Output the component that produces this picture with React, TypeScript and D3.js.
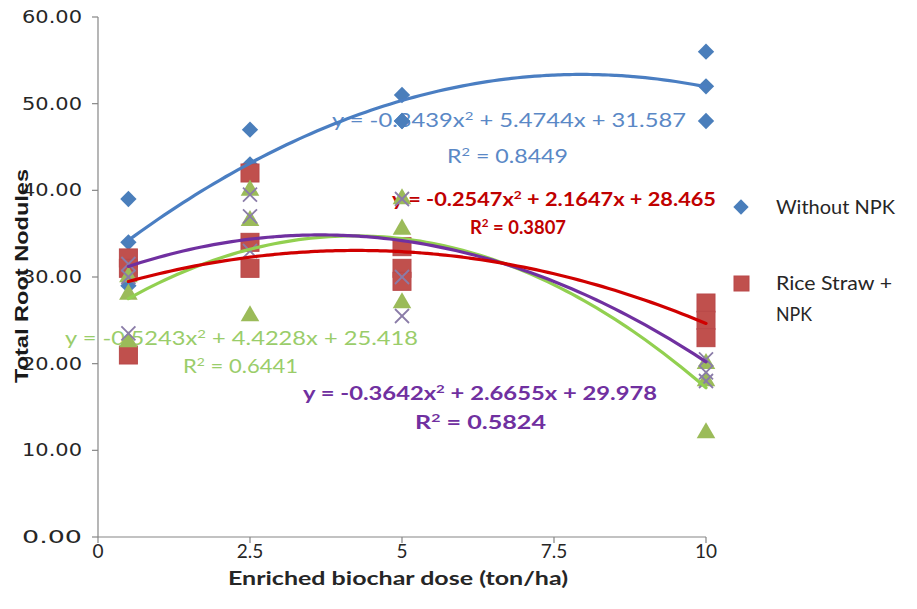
import React from "react";
import * as d3 from "d3";

// ---- data ----
const doses = [0.5, 2.5, 5, 10];
const withoutNPK = [
  [39, 34, 29],
  [47, 43, 42],
  [51, 48, 48],
  [56, 52, 48],
];
const riceStrawNPK = [
  [32.2, 31, 21],
  [42, 34, 31],
  [33.5, 31, 29.5],
  [27, 25, 23],
];
const series3 = [
  [28, 22.5, 30],
  [40, 36.5, 25.5],
  [39, 35.5, 27],
  [20, 18, 12],
];
const series4 = [
  [31.5, 23.5, 30],
  [39.5, 37, 33],
  [39, 25.5, 30],
  [20.5, 19, 18],
];
const coefWithout = [-0.3439, 5.4744, 31.587];
const coefRice = [-0.2547, 2.1647, 28.465];
const coefS3 = [-0.5243, 4.4228, 25.418];
const coefS4 = [-0.3642, 2.6655, 29.978];
const r2Values = ["0.8449", "0.3807", "0.6441", "0.5824"];
const xTicks = [0, 2.5, 5, 7.5, 10];
const yTicks = [0, 10, 20, 30, 40, 50, 60];
const legendLabels = ["Without NPK", "Rice Straw +", "NPK"];

const W = 917;
const H = 609;
const x = d3.scaleLinear().domain([0, 10]).range([98, 706]);
const y = d3.scaleLinear().domain([0, 60]).range([537, 17]);

const quad = (c: number[]) => (v: number) => c[0] * v * v + c[1] * v + c[2];

function flatten(vals: number[][]) {
  const out: { d: number; v: number }[] = [];
  vals.forEach((arr, i) => arr.forEach((v) => out.push({ d: doses[i], v })));
  return out;
}

function curvePath(c: number[]) {
  const f = quad(c);
  const pts = d3.range(0.5, 10.0001, 0.1).map((v) => [x(v), y(f(v))] as [number, number]);
  return d3.line().curve(d3.curveMonotoneX)(pts) || "";
}

function fmt(n: number, digits: number) {
  return Math.abs(n).toFixed(digits);
}

function Equation({
  c,
  r2,
  x0,
  x1,
  cy,
  rx0,
  rx1,
  rcy,
  color,
  bold,
}: {
  c: number[];
  r2: string;
  x0: number;
  x1: number;
  cy: number;
  rx0: number;
  rx1: number;
  rcy: number;
  color: string;
  bold?: boolean;
}) {
  const fw = bold ? 700 : 400;
  const sign = c[0] < 0 ? "-" : "";
  return (
    <g fill={color} fontFamily="Lato, 'Open Sans', sans-serif" fontSize={19} fontWeight={fw}>
      <text x={x0} y={cy + 7} textLength={x1 - x0} lengthAdjust="spacingAndGlyphs">
        {`y = ${sign}${fmt(c[0], 4)}x`}
        <tspan dy={-7} fontSize={12}>2</tspan>
        <tspan dy={7}>{` + ${fmt(c[1], 4)}x + ${fmt(c[2], 3)}`}</tspan>
      </text>
      <text x={rx0} y={rcy + 7} textLength={rx1 - rx0} lengthAdjust="spacingAndGlyphs">
        R<tspan dy={-7} fontSize={12}>2</tspan>
        <tspan dy={7}>{` = ${r2}`}</tspan>
      </text>
    </g>
  );
}

const diamond = d3.symbol().type(d3.symbolDiamond2).size(170)() || "";
const triangle = d3.symbol().type(d3.symbolTriangle).size(150)() || "";

export default function App() {
  const blue = "#4A7EBB";
  const red = "#C0504D";
  const green = "#9BBB59";
  const purple = "#8A7CA8";

  return (
    <svg width={W} height={H} style={{ position: "absolute", left: 0, top: 0, background: "#fff" }}>
      <rect width={W} height={H} fill="#fff" />
      {/* axes */}
      <g stroke="#868686" strokeWidth={1.2}>
        <line x1={x(0)} x2={x(0)} y1={y(60)} y2={y(0)} />
        <line x1={x(0)} x2={x(10)} y1={y(0)} y2={y(0)} />
        {yTicks.map((t) => (
          <line key={"yt" + t} x1={x(0) - 6} x2={x(0)} y1={y(t)} y2={y(t)} />
        ))}
        {xTicks.map((t) => (
          <line key={"xt" + t} x1={x(t)} x2={x(t)} y1={y(0)} y2={y(0) + 6} />
        ))}
      </g>
      <g fill="#262626" fontFamily="'DejaVu Sans', Verdana, sans-serif" fontSize={17}>
        {yTicks.map((t) => (
          <text key={"yl" + t} x={22} y={y(t) + 6} textLength={60} lengthAdjust="spacingAndGlyphs">
            {t.toFixed(2)}
          </text>
        ))}
      </g>
      <g fill="#262626" fontFamily="Lato, 'Open Sans', sans-serif" fontSize={19} textAnchor="middle">
        {xTicks.map((t) => (
          <text key={"xl" + t} x={x(t)} y={558}>
            {String(t)}
          </text>
        ))}
      </g>
      <text
        x={398}
        y={585}
        textAnchor="middle"
        fontFamily="Lato, 'Open Sans', sans-serif"
        fontWeight={700}
        fontSize={19}
        fill="#262626"
        textLength={340}
        lengthAdjust="spacingAndGlyphs"
      >
        Enriched biochar dose (ton/ha)
      </text>
      <text
        transform="translate(28,276) rotate(-90)"
        textAnchor="middle"
        fontFamily="'Liberation Sans', Arial, sans-serif"
        fontWeight={700}
        fontSize={18}
        fill="#1a1a1a"
        textLength={214}
        lengthAdjust="spacingAndGlyphs"
      >
        Total Root Nodules
      </text>

      {/* equations */}
      <Equation c={coefWithout} r2={r2Values[0]} x0={332} x1={686} cy={120} rx0={447} rx1={568} rcy={156} color="#5A88C6" />
      <Equation c={coefRice} r2={r2Values[1]} x0={392} x1={716} cy={199} rx0={470} rx1={566} rcy={227} color="#C00000" bold />
      <Equation c={coefS3} r2={r2Values[2]} x0={65} x1={418} cy={338} rx0={183} rx1={298} rcy={366} color="#9ACD6A" />
      <Equation c={coefS4} r2={r2Values[3]} x0={303} x1={657} cy={393} rx0={415} rx1={546} rcy={422} color="#7030A0" bold />

      {/* markers */}
      <g fill={blue}>
        {flatten(withoutNPK).map((p, i) => (
          <path key={"b" + i} d={diamond} transform={`translate(${x(p.d)},${y(p.v)})`} />
        ))}
      </g>
      <g fill={red} stroke="#B9494A" strokeWidth={1}>
        {flatten(riceStrawNPK).map((p, i) => (
          <rect key={"r" + i} x={x(p.d) - 9} y={y(p.v) - 9} width={18} height={18} />
        ))}
      </g>
      <g fill={green}>
        {flatten(series3).map((p, i) => (
          <path key={"g" + i} d={triangle} transform={`translate(${x(p.d)},${y(p.v)})`} />
        ))}
      </g>
      <g stroke={purple} strokeWidth={1.8}>
        {flatten(series4).map((p, i) => (
          <g key={"p" + i} transform={`translate(${x(p.d)},${y(p.v)})`}>
            <line x1={-7} y1={-7} x2={7} y2={7} />
            <line x1={-7} y1={7} x2={7} y2={-7} />
          </g>
        ))}
      </g>

      {/* trendlines */}
      <g fill="none" strokeWidth={3.2} strokeLinecap="round">
        <path d={curvePath(coefWithout)} stroke="#4A7EC2" />
        <path d={curvePath(coefS3)} stroke="#92D050" />
        <path d={curvePath(coefS4)} stroke="#7030A0" />
        <path d={curvePath(coefRice)} stroke="#D00000" />
      </g>

      {/* legend */}
      <path d={d3.symbol().type(d3.symbolDiamond2).size(150)() || ""} transform="translate(741,207)" fill={blue} />
      <rect x={734} y={276} width={15} height={15} fill={red} stroke="#B9494A" />
      <g fill="#262626" fontFamily="Lato, 'Open Sans', sans-serif" fontSize={19}>
        <text x={776} y={214} textLength={119} lengthAdjust="spacingAndGlyphs">{legendLabels[0]}</text>
        <text x={776} y={290} textLength={116} lengthAdjust="spacingAndGlyphs">{legendLabels[1]}</text>
        <text x={776} y={321} textLength={36} lengthAdjust="spacingAndGlyphs">{legendLabels[2]}</text>
      </g>
    </svg>
  );
}
